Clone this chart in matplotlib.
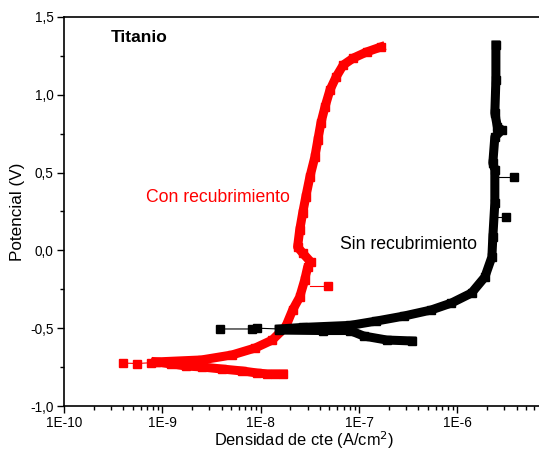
import matplotlib
matplotlib.use("Agg")
import matplotlib.pyplot as plt
from matplotlib.ticker import FixedLocator, LogLocator, NullFormatter

plt.rcParams['font.family'] = ['Liberation Sans', 'DejaVu Sans']

# ---- data (current density A/cm2, potential V) ----
# Con recubrimiento (red)
red_cath_x = [1.7e-8, 1.4e-8, 1.17e-8, 9.2e-9, 6.5e-9, 4.0e-9, 2.5e-9, 1.75e-9, 1.23e-9, 8.6e-10]
red_cath_y = [-0.794, -0.794, -0.794, -0.788, -0.775, -0.762, -0.749, -0.743, -0.730, -0.717]
red_tail_x = [8.6e-10, 7.6e-10, 5.5e-10, 4.0e-10]
red_tail_y = [-0.717, -0.722, -0.727, -0.724]
red_anod_x = [8.6e-10, 2.5e-9, 5.1e-9, 8.8e-9, 1.31e-8, 1.79e-8, 2.11e-8, 2.49e-8, 2.8e-8,
              3.0e-8, 3.23e-8, 2.67e-8, 2.37e-8, 2.49e-8, 2.67e-8, 2.87e-8, 3.16e-8, 3.55e-8,
              3.81e-8, 4.09e-8, 4.5e-8, 5.06e-8, 5.83e-8, 6.89e-8, 8.73e-8, 1.19e-7, 1.66e-7]
red_anod_y = [-0.717, -0.704, -0.672, -0.627, -0.576, -0.492, -0.383, -0.300, -0.190,
              -0.107, -0.075, -0.017, 0.022, 0.131, 0.240, 0.343, 0.472, 0.600,
              0.710, 0.819, 0.922, 1.031, 1.114, 1.191, 1.236, 1.275, 1.307]
red_spike_x = [3.2e-8, 4.83e-8]
red_spike_y = [-0.229, -0.229]

# Sin recubrimiento (black)
blk_cath_x = [3.44e-7, 1.91e-7, 1.11e-7, 8.1e-8, 4.28e-8, 1.55e-8]
blk_cath_y = [-0.582, -0.576, -0.550, -0.515, -0.515, -0.512]
blk_tail_x = [1.55e-8, 9.2e-9, 8.2e-9, 3.84e-9]
blk_tail_y = [-0.505, -0.500, -0.505, -0.505]
blk_anod_x = [1.55e-8, 2.67e-8, 8.13e-8, 1.5e-7, 2.85e-7, 5.4e-7, 8.7e-7, 1.39e-6, 1.9e-6,
              2.24e-6, 2.29e-6, 2.4e-6, 2.4e-6, 2.29e-6, 2.4e-6, 2.83e-6, 2.55e-6, 2.4e-6,
              2.46e-6, 2.46e-6]
blk_anod_y = [-0.505, -0.495, -0.482, -0.454, -0.422, -0.383, -0.338, -0.274, -0.171,
              -0.042, 0.086, 0.305, 0.517, 0.562, 0.729, 0.774, 0.793, 0.883,
              1.095, 1.320]
blk_spike1_x = [2.3e-6, 3.77e-6]
blk_spike1_y = [0.472, 0.472]
blk_spike2_x = [2.35e-6, 3.12e-6]
blk_spike2_y = [0.215, 0.215]

xtick_vals = [1e-10, 1e-9, 1e-8, 1e-7, 1e-6]
xtick_labels = ['1E-10', '1E-9', '1E-8', '1E-7', '1E-6']
ytick_vals = [-1.0, -0.5, 0.0, 0.5, 1.0, 1.5]
ytick_labels = ['-1,0', '-0,5', '0,0', '0,5', '1,0', '1,5']

fig = plt.figure(figsize=(5.39, 4.5), dpi=100)
ax = fig.add_axes([64/539, 1-406/450, 1-64/539 + 0.01, (406-17)/450])

band_kw = dict(lw=6.5, solid_capstyle='projecting', solid_joinstyle='round')
red = '#ff0000'
blk = '#000000'

# thin connecting lines + square markers for isolated points
for xs, ys, c in [(red_tail_x, red_tail_y, red), (red_spike_x, red_spike_y, red),
                  (blk_tail_x, blk_tail_y, blk), (blk_spike1_x, blk_spike1_y, blk),
                  (blk_spike2_x, blk_spike2_y, blk)]:
    ax.plot(xs, ys, color=c, lw=0.8, marker='s', ms=5.5, markevery=list(range(1, len(xs))))

ax.plot(red_cath_x, red_cath_y, color=red, **band_kw)
ax.plot(red_anod_x, red_anod_y, color=red, **band_kw)
ax.plot(red_cath_x, red_cath_y, color=red, ls='none', marker='s', ms=6)
ax.plot(red_anod_x, red_anod_y, color=red, ls='none', marker='s', ms=6)

ax.plot(blk_cath_x, blk_cath_y, color=blk, **band_kw)
ax.plot(blk_anod_x, blk_anod_y, color=blk, **band_kw)
ax.plot(blk_cath_x, blk_cath_y, color=blk, ls='none', marker='s', ms=6)
ax.plot(blk_anod_x, blk_anod_y, color=blk, ls='none', marker='s', ms=6)

ax.set_xscale('log')
ax.set_xlim(1e-10, 10**(-5.116))
ax.set_ylim(-1.0, 1.5)

ax.xaxis.set_major_locator(FixedLocator(xtick_vals))
ax.set_xticklabels(xtick_labels)
ax.xaxis.set_minor_locator(LogLocator(base=10, subs=range(2, 10), numticks=20))
ax.xaxis.set_minor_formatter(NullFormatter())
ax.yaxis.set_major_locator(FixedLocator(ytick_vals))
ax.set_yticklabels(ytick_labels)
ax.yaxis.set_minor_locator(FixedLocator([-0.75, -0.25, 0.25, 0.75, 1.25]))

ax.tick_params(axis='both', which='major', direction='out', length=5, width=1, labelsize=9.8, pad=2.5)
ax.tick_params(axis='both', which='minor', direction='out', length=3, width=1)
ax.tick_params(top=False, right=False)
for s in ['left', 'bottom', 'top']:
    ax.spines[s].set_linewidth(1.2)
ax.spines['right'].set_visible(False)

ax.set_xlabel('Densidad de cte (A/cm$^2$)', fontsize=11.8, labelpad=-1)
ax.set_ylabel('Potencial (V)', fontsize=12.3, labelpad=4)

ax.text(2.97e-10, 1.371, 'Titanio', fontsize=12.5, fontweight='bold', ha='left', va='center')
ax.text(6.8e-10, 0.343, 'Con recubrimiento', fontsize=12.7, color=red, ha='left', va='center')
ax.text(6.41e-8, 0.041, 'Sin recubrimiento', fontsize=12.7, color=blk, ha='left', va='center')

fig.savefig('out.png', dpi=100)
